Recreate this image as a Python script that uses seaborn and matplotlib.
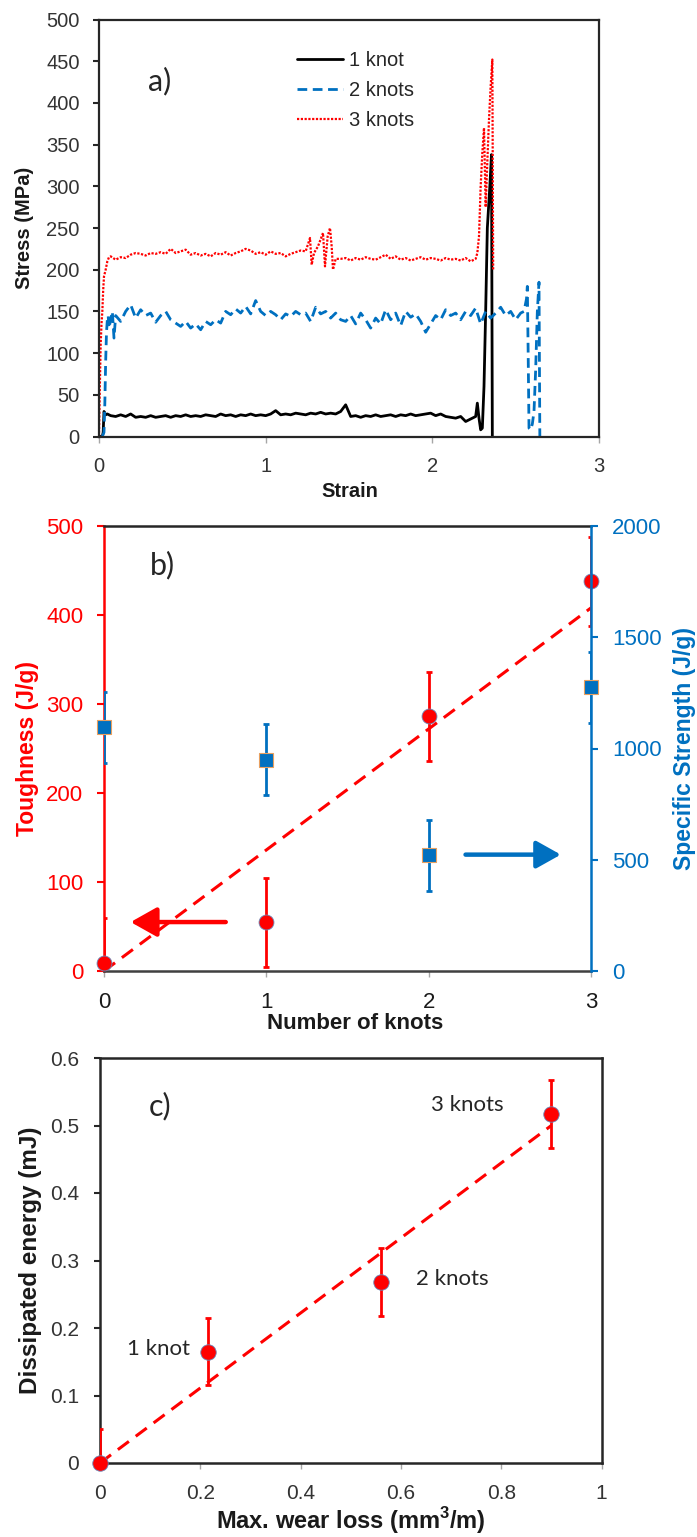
import matplotlib.pyplot as plt
from matplotlib.ticker import FuncFormatter, MultipleLocator
import seaborn as sns

# ---- panel a: stress-strain curves ----
k1_strain = [0, 0.02, 0.025, 0.03, 0.04, 0.05,
             0.07, 0.10, 0.13, 0.16, 0.19, 0.22, 0.25, 0.28, 0.31, 0.34, 0.37, 0.40, 0.43, 0.46, 0.49,
             0.52, 0.55, 0.58, 0.61, 0.64, 0.67, 0.70, 0.73, 0.76, 0.79, 0.82, 0.85, 0.88, 0.91, 0.94,
             0.97, 1.00, 1.03, 1.06, 1.09, 1.12, 1.15, 1.18, 1.21, 1.24, 1.27, 1.30, 1.33, 1.36, 1.39,
             1.42, 1.45, 1.48, 1.51, 1.54, 1.57, 1.60, 1.63, 1.66, 1.69, 1.72, 1.75, 1.78, 1.81, 1.84,
             1.87, 1.90, 1.93, 1.96, 1.99, 2.02, 2.05, 2.08, 2.11, 2.14, 2.17, 2.20, 2.23, 2.26,
             2.27, 2.28, 2.29, 2.30, 2.31, 2.32, 2.33, 2.345, 2.355, 2.36]
k1_stress = [0, 0, 5, 30, 26, 27,
             25, 24, 26, 24, 27, 23, 24, 23, 25, 23, 24, 25, 23, 25, 24,
             26, 24, 25, 24, 26, 25, 24, 27, 25, 26, 24, 26, 25, 27, 25,
             26, 25, 27, 31, 26, 27, 26, 28, 27, 26, 28, 27, 29, 27, 28,
             27, 30, 38, 24, 25, 23, 25, 24, 26, 24, 25, 26, 24, 26, 25,
             27, 25, 26, 27, 28, 25, 27, 24, 23, 22, 24, 18, 21, 24,
             40, 22, 8, 10, 60, 150, 250, 300, 338, 0]

k2_strain = [0.02, 0.03, 0.035, 0.04, 0.045, 0.05, 0.055, 0.06, 0.07, 0.08, 0.09,
             0.10, 0.13, 0.16, 0.19, 0.22, 0.25, 0.28, 0.31, 0.34, 0.37, 0.40, 0.43, 0.46, 0.49,
             0.52, 0.55, 0.58, 0.61, 0.64, 0.67, 0.70, 0.73, 0.76, 0.79, 0.82, 0.85, 0.88, 0.91, 0.94,
             0.97, 1.00, 1.03, 1.06, 1.09, 1.12, 1.15, 1.18, 1.21, 1.24, 1.27, 1.30, 1.33, 1.36, 1.39,
             1.42, 1.45, 1.48, 1.51, 1.54, 1.57, 1.60, 1.63, 1.66, 1.69, 1.72, 1.75, 1.78, 1.81, 1.84,
             1.87, 1.90, 1.93, 1.96, 1.99, 2.02, 2.05, 2.08, 2.11, 2.14, 2.17, 2.20, 2.23, 2.26,
             2.29, 2.32, 2.35, 2.38, 2.41, 2.44, 2.47, 2.50, 2.53, 2.55, 2.565, 2.57,
             2.575, 2.58, 2.59, 2.60, 2.61, 2.62, 2.63, 2.64, 2.645]
k2_stress = [0, 5, 40, 90, 125, 140, 145, 130, 140, 150, 118,
             145, 138, 150, 158, 142, 152, 145, 148, 137, 145, 150, 140, 136, 132,
             138, 130, 135, 128, 138, 134, 140, 136, 150, 146, 153, 148, 156, 147, 163,
             150, 145, 150, 146, 140, 147, 144, 150, 146, 148, 138, 155, 147, 150, 142,
             148, 140, 138, 145, 135, 148, 140, 130, 142, 135, 152, 140, 148, 133, 150,
             143, 147, 138, 125, 135, 145, 140, 152, 145, 148, 140, 150, 145, 154,
             135, 150, 142, 148, 155, 145, 150, 140, 148, 150, 165, 180,
             100, 10, 8, 15, 30, 80, 150, 185, 0]

k3_strain = [0, 0.005, 0.01, 0.015, 0.02, 0.025, 0.03, 0.04, 0.05, 0.06,
             0.07, 0.10, 0.13, 0.16, 0.19, 0.22, 0.25, 0.28, 0.31, 0.34, 0.37, 0.40, 0.43, 0.46, 0.49,
             0.52, 0.55, 0.58, 0.61, 0.64, 0.67, 0.70, 0.73, 0.76, 0.79, 0.82, 0.85, 0.88, 0.91, 0.94,
             0.97, 1.00, 1.03, 1.06, 1.09, 1.12, 1.15, 1.18, 1.21, 1.24,
             1.266, 1.276, 1.29, 1.314, 1.344, 1.356, 1.372, 1.386, 1.396, 1.404,
             1.42, 1.45, 1.48, 1.51, 1.54, 1.57, 1.60, 1.63, 1.66, 1.69, 1.72, 1.75, 1.78, 1.81, 1.84,
             1.87, 1.90, 1.93, 1.96, 1.99, 2.02, 2.05, 2.08, 2.11, 2.14, 2.17, 2.20, 2.23, 2.26,
             2.27, 2.28, 2.29, 2.30, 2.31, 2.32, 2.33, 2.34, 2.35, 2.36, 2.365]
k3_stress = [0, 60, 110, 135, 150, 175, 192, 200, 210, 215,
             216, 212, 215, 214, 218, 220, 219, 217, 220, 219, 221, 219, 225, 220, 222,
             224, 218, 220, 217, 219, 216, 220, 218, 221, 217, 220, 222, 225, 223, 219,
             221, 218, 222, 219, 220, 216, 219, 221, 223, 222,
             238, 206, 220, 228, 244, 204, 240, 250, 228, 200,
             213, 213, 214, 211, 214, 212, 215, 213, 212, 215, 218, 213, 216, 212, 214,
             211, 213, 215, 212, 214, 213, 211, 214, 212, 213, 211, 214, 210, 213,
             220, 240, 300, 340, 370, 275, 330, 380, 420, 452, 200]

# ---- panel b: toughness / specific strength vs knots ----
knots = [0, 1, 2, 3]
toughness = [9, 55, 286, 438]
toughness_err = [50, 50, 50, 50]
strength = [1095, 950, 520, 1275]
strength_err = [160, 160, 160, 160]
tough_trend_x = [0, 3]
tough_trend_y = [0, 408]

# ---- panel c: dissipated energy vs wear loss ----
wear_loss = [0, 0.215, 0.56, 0.90]
energy = [0, 0.165, 0.268, 0.517]
energy_err = [0.05, 0.05, 0.05, 0.05]
energy_trend_x = [0, 0.9]
energy_trend_y = [0, 0.50]
point_labels = ['1 knot', '2 knots', '3 knots']

RED = '#FF0000'
BLUE = '#0070C0'
DARK = '#262626'
TICKGRAY = '#a6a6a6'

sns.set_style('white')
plt.rcParams['font.family'] = ['Liberation Sans', 'DejaVu Sans']
plt.rcParams['mathtext.fontset'] = 'custom'
plt.rcParams['mathtext.bf'] = 'Liberation Sans:bold'
plt.rcParams['mathtext.rm'] = 'Liberation Sans'

W, H = 697, 1537
fig = plt.figure(figsize=(W / 100, H / 100), dpi=100)

def box(l, r, t, b):
    return [l / W, 1 - b / H, (r - l) / W, (b - t) / H]

ax_a = fig.add_axes(box(99, 599, 19.5, 436.5))
ax_b = fig.add_axes(box(104, 591, 526, 971))
ax_c = fig.add_axes(box(100, 601.5, 1058, 1463))

fmt = FuncFormatter(lambda v, p: '%g' % round(v, 3))

# ---------- a) ----------
sns.lineplot(x=k1_strain, y=k1_stress, ax=ax_a, color='black', lw=2,
             sort=False, estimator=None, label='1 knot')
sns.lineplot(x=k2_strain, y=k2_stress, ax=ax_a, color=BLUE, lw=2, linestyle=(0, (3.5, 2)),
             sort=False, estimator=None, label='2 knots')
sns.lineplot(x=k3_strain, y=k3_stress, ax=ax_a, color=RED, lw=1.6, linestyle=(0, (1, 0.7)),
             sort=False, estimator=None, label='3 knots')
ax_a.set_xlim(0, 3)
ax_a.set_ylim(0, 500)
ax_a.xaxis.set_major_locator(MultipleLocator(1))
ax_a.yaxis.set_major_locator(MultipleLocator(50))
for s in ax_a.spines.values():
    s.set_color(DARK)
    s.set_linewidth(1.6)
ax_a.tick_params(axis='y', direction='out', length=4, width=1.5, color=DARK,
                 labelsize=14.5, labelcolor='#333333', pad=10, left=True)
ax_a.tick_params(axis='x', direction='out', length=4, width=1, color=TICKGRAY,
                 labelsize=14.5, labelcolor='#333333', pad=11, bottom=True)
ax_a.set_xlabel('Strain', fontsize=14.5, fontweight='bold', color='#1a1a1a', va='center')
ax_a.set_ylabel('Stress (MPa)', fontsize=14.5, fontweight='bold', color='#1a1a1a', va='center')
ax_a.xaxis.set_label_coords(0.501, -0.132)
ax_a.yaxis.set_label_coords(-0.148, 0.5)
ax_a.legend(loc='upper left', bbox_to_anchor=(0.396, 0.925), frameon=False, fontsize=14.5,
            handlelength=2.3, handletextpad=0.3, labelspacing=0.55, borderpad=0, borderaxespad=0)
ax_a.text(0.366, 426, 'a)', fontsize=22, family='Lato', ha='center', va='center')

# ---------- b) ----------
ax_b2 = ax_b.twinx()
ax_b.errorbar(knots, toughness, yerr=toughness_err, fmt='none', ecolor=RED, elinewidth=2,
              capsize=2.5, capthick=2, zorder=3)
ax_b2.errorbar(knots, strength, yerr=strength_err, fmt='none', ecolor=BLUE, elinewidth=2,
               capsize=2.5, capthick=2, zorder=3)
sns.lineplot(x=tough_trend_x, y=tough_trend_y, ax=ax_b, color=RED, lw=2.2,
             linestyle=(0, (4.5, 2.8)), zorder=4)
sns.scatterplot(x=knots, y=toughness, ax=ax_b, marker='o', s=115, color=RED,
                edgecolor='#6a86b8', linewidth=0.6, zorder=5, clip_on=False)
sns.scatterplot(x=knots, y=strength, ax=ax_b2, marker='s', s=95, color=BLUE,
                edgecolor='#e8a060', linewidth=0.8, zorder=5, clip_on=False)
ax_b.annotate('', xy=(0.164, 55), xytext=(0.75, 55),
              arrowprops=dict(arrowstyle='-|>,head_length=0.8,head_width=0.45', color=RED,
                              lw=3.2, mutation_scale=20, shrinkA=0, shrinkB=0))
ax_b2.annotate('', xy=(2.814, 523), xytext=(2.227, 523),
               arrowprops=dict(arrowstyle='-|>,head_length=0.75,head_width=0.42', color=BLUE,
                               lw=3.2, mutation_scale=20, shrinkA=0, shrinkB=0))
ax_b.set_xlim(0, 3)
ax_b.set_ylim(0, 500)
ax_b2.set_ylim(0, 2000)
ax_b.xaxis.set_major_locator(MultipleLocator(1))
ax_b.yaxis.set_major_locator(MultipleLocator(100))
ax_b2.yaxis.set_major_locator(MultipleLocator(500))
ax_b.spines['left'].set_color(RED)
ax_b.spines['right'].set_visible(False)
ax_b.spines['top'].set_color(DARK)
ax_b.spines['bottom'].set_color('#404040')
ax_b2.spines['right'].set_color(BLUE)
for k in ['left', 'top', 'bottom']:
    ax_b2.spines[k].set_visible(False)
for s in list(ax_b.spines.values()) + [ax_b2.spines['right']]:
    s.set_linewidth(1.8)
ax_b.tick_params(axis='y', direction='out', length=5, width=1.5, color=RED,
                 labelsize=16, labelcolor=RED, pad=10, left=True)
ax_b2.tick_params(axis='y', direction='out', length=5, width=1.5, color=BLUE,
                  labelsize=16, labelcolor=BLUE, pad=10, right=True)
ax_b.tick_params(axis='x', direction='out', length=4, width=1, color=TICKGRAY,
                 labelsize=16, labelcolor='#1a1a1a', pad=11, bottom=True)
ax_b.set_xlabel('Number of knots', fontsize=16, fontweight='bold', color='#1a1a1a', va='center')
ax_b.set_ylabel('Toughness (J/g)', fontsize=16.5, fontweight='bold', color=RED, va='center')
ax_b2.set_ylabel('Specific Strength (J/g)', fontsize=16.5, fontweight='bold', color=BLUE,
                 va='center', rotation=90)
ax_b.xaxis.set_label_coords(0.515, -0.119)
ax_b.yaxis.set_label_coords(-0.158, 0.5)
ax_b2.yaxis.set_label_coords(1.193, 0.5)
ax_b.text(0.357, 456, 'b)', fontsize=22, family='Lato', ha='center', va='center')

# ---------- c) ----------
ax_c.errorbar(wear_loss, energy, yerr=energy_err, fmt='none', ecolor=RED, elinewidth=2,
              capsize=2.5, capthick=2, zorder=3)
sns.lineplot(x=energy_trend_x, y=energy_trend_y, ax=ax_c, color=RED, lw=2.2,
             linestyle=(0, (4.5, 2.8)), zorder=4)
sns.scatterplot(x=wear_loss, y=energy, ax=ax_c, marker='o', s=124, color=RED,
                edgecolor='#6a86b8', linewidth=0.6, zorder=5, clip_on=False)
ax_c.set_xlim(0, 1)
ax_c.set_ylim(0, 0.6)
ax_c.xaxis.set_major_locator(MultipleLocator(0.2))
ax_c.yaxis.set_major_locator(MultipleLocator(0.1))
ax_c.xaxis.set_major_formatter(fmt)
ax_c.yaxis.set_major_formatter(fmt)
for s in ax_c.spines.values():
    s.set_color(DARK)
    s.set_linewidth(1.8)
ax_c.tick_params(axis='y', direction='out', length=4, width=1.5, color=DARK,
                 labelsize=15, labelcolor='#333333', pad=11, left=True)
ax_c.tick_params(axis='x', direction='out', length=4, width=1, color=TICKGRAY,
                 labelsize=15, labelcolor='#333333', pad=11, bottom=True)
ax_c.set_xlabel(r'Max. wear loss (mm$^\mathbf{3}$/m)', fontsize=17, fontweight='bold',
                color='#1a1a1a', va='center')
ax_c.set_ylabel('Dissipated energy (mJ)', fontsize=17.5, fontweight='bold', color='#1a1a1a',
                va='center')
ax_c.xaxis.set_label_coords(0.501, -0.143)
ax_c.yaxis.set_label_coords(-0.138, 0.5)
ax_c.text(0.12, 0.529, 'c)', fontsize=22, family='Lato', ha='center', va='center')
ax_c.text(0.179, 0.169, point_labels[0], fontsize=16, family='Lato', ha='right', va='center')
ax_c.text(0.631, 0.273, point_labels[1], fontsize=16, family='Lato', ha='left', va='center')
ax_c.text(0.660, 0.530, point_labels[2], fontsize=16, family='Lato', ha='left', va='center')

fig.savefig('out.png', dpi=100)
